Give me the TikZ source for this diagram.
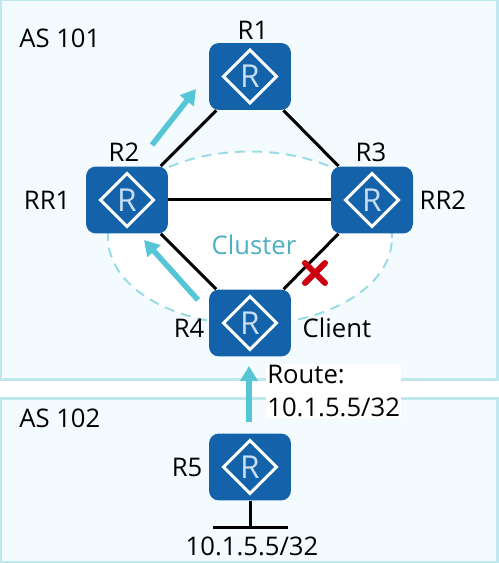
\documentclass[tikz,border=0pt]{standalone}
\usepackage{fontspec}
\setmainfont{Open Sans}
\usetikzlibrary{arrows.meta,positioning,calc,shapes.geometric}
\definecolor{routerblue}{RGB}{19,98,170}
\definecolor{routerpale}{RGB}{200,222,244}
\definecolor{asline}{RGB}{190,232,238}
\definecolor{asfill}{RGB}{244,251,254}
\definecolor{flowteal}{RGB}{86,197,214}
\definecolor{crossred}{RGB}{204,0,17}

\begin{document}
\begin{tikzpicture}[
    x=0.02cm, y=-0.02cm,
    asbox/.style={draw=asline, line width=0.06cm, fill=asfill},
    router/.style={rectangle, fill=routerblue, rounded corners=0.2cm,
        minimum width=1.64cm, minimum height=1.34cm, inner sep=0pt,
        text=routerpale, font=\fontsize{18pt}{18pt}\selectfont,
        path picture={\draw[white, line width=0.06cm, sharp corners]
            ($(path picture bounding box.center)+(-26.5,0)$) --
            ($(path picture bounding box.center)+(0,26.5)$) --
            ($(path picture bounding box.center)+(26.5,0)$) --
            ($(path picture bounding box.center)+(0,-26.5)$) -- cycle;}},
    lbl/.style={font=\fontsize{14.6pt}{18.8pt}\selectfont, text=black, inner sep=0pt},
    link/.style={black, line width=0.06cm},
    flow/.style={-{Triangle[length=0.3cm, width=0.34cm]}, flowteal, line width=0.11cm}
]
    \useasboundingbox (0,0) rectangle (498,563);

    % AS areas
    \path[asbox] (1,0) rectangle (497,379);
    \path[asbox] (1,398) rectangle (497,562);
    \node[lbl, anchor=west] (as101) at (19,38) {AS 101};
    \node[lbl, anchor=west] (as102) at (19,418) {AS 102};

    % Cluster
    \node[draw=flowteal!60, dash pattern=on 0.2cm off 0.14cm, line width=0.04cm, fill=white,
        ellipse, inner sep=0pt, minimum width=5.68cm, minimum height=3.46cm]
        (cluster) at (250,238) {};
    \node[lbl, text=flowteal!90!black] (clusterlbl) at (254,245) {Cluster};

    % Routers
    \node[router] (R1) at (250,76.5) {R};
    \node[router] (R2) at (127,200) {R};
    \node[router] (R3) at (372,200) {R};
    \node[router] (R4) at (250,323) {R};
    \node[router] (R5) at (250,467) {R};

    \draw[link] (R1) -- (R2);
    \draw[link] (R1) -- (R3);
    \draw[link] (R2) -- (R3);
    \draw[link] (R2) -- (R4);
    \draw[link] (R3) -- (R4);

    % Router labels
    \node[lbl] (r1lbl) at (253,30) {R1};
    \node[lbl] (r2lbl) at (124,152) {R2};
    \node[lbl] (r3lbl) at (371,152) {R3};
    \node[lbl, left=0.3cm of R2] (rr1lbl) {RR1};
    \node[lbl, right=0.12cm of R3] (rr2lbl) {RR2};
    \node[lbl, left=0.08cm of R4, yshift=-0.1cm] (r4lbl) {R4};
    \node[lbl, right=0.22cm of R4, yshift=-0.1cm] (clientlbl) {Client};
    \node[lbl, left=0.12cm of R5] (r5lbl) {R5};

    % Route label
    \node[lbl, fill=white, align=left, anchor=north west, inner sep=0.02cm]
        (routelbl) at (266,364) {Route:\\10.1.5.5/32};

    % Update flow
    \coordinate (f1a) at (152,145); \coordinate (f1b) at (196,89);
    \coordinate (f2a) at (198,300); \coordinate (f2b) at (144,240);
    \coordinate (f3a) at (249,422); \coordinate (f3b) at (249,366);
    \draw[flow] (f1a) -- (f1b);
    \draw[flow] (f2a) -- (f2b);
    \draw[flow] (f3a) -- (f3b);

    % Broken link
    \coordinate (xmark) at (315,273);
    \draw[crossred, line width=0.12cm, line cap=round]
        ($(xmark)+(-10,-10)$) -- ($(xmark)+(10,10)$)
        ($(xmark)+(-10,10)$) -- ($(xmark)+(10,-10)$);

    % Stub network
    \coordinate (stubl) at (213,527); \coordinate (stubr) at (288,527);
    \coordinate (stubm) at (250,527);
    \draw[link] (R5) -- (stubm);
    \draw[link] (stubl) -- (stubr);
    \node[lbl] (stublbl) at (252,546) {10.1.5.5/32};
\end{tikzpicture}
\end{document}
